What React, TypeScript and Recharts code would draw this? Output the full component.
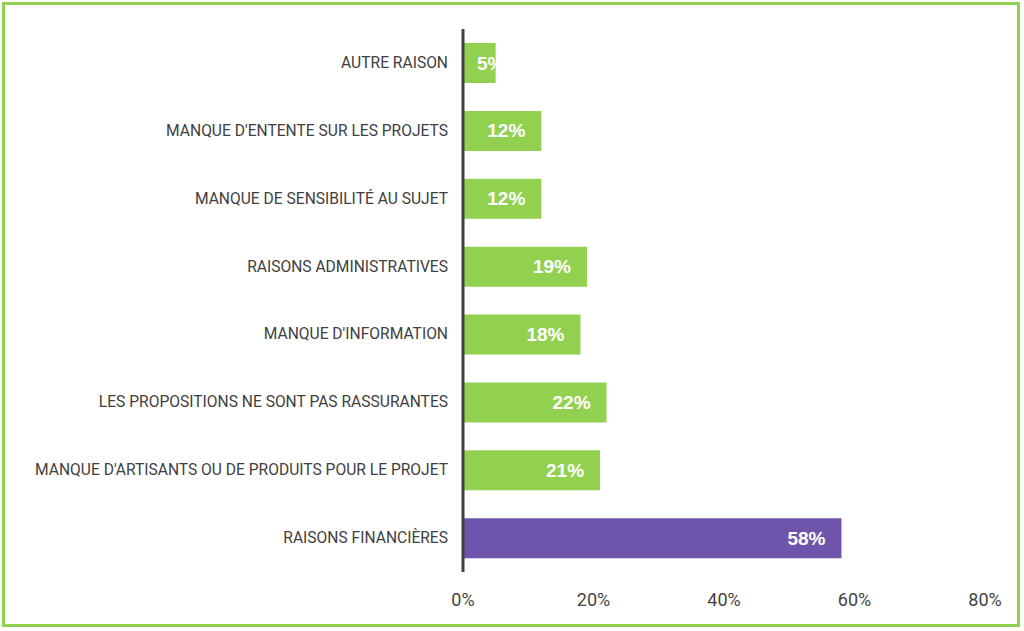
import { Bar, BarChart, Cell, LabelList, XAxis, YAxis } from "recharts";

const categories = [
  "AUTRE RAISON",
  "MANQUE D'ENTENTE SUR LES PROJETS",
  "MANQUE DE SENSIBILITÉ AU SUJET",
  "RAISONS ADMINISTRATIVES",
  "MANQUE D'INFORMATION",
  "LES PROPOSITIONS NE SONT PAS RASSURANTES",
  "MANQUE D'ARTISANTS OU DE PRODUITS POUR LE PROJET",
  "RAISONS FINANCIÈRES",
];
const values = [5, 12, 12, 19, 18, 22, 21, 58];
const highlighted = [false, false, false, false, false, false, false, true];
const xTicks = [0, 20, 40, 60, 80];

const GREEN = "#92d050";
const PURPLE = "#6e54ab";

const data = categories.map((name, i) => ({ name, value: values[i], hi: highlighted[i] }));

function CategoryTick(props: any) {
  const { y, payload } = props;
  return (
    <text
      x={448}
      y={y}
      textAnchor="end"
      dominantBaseline="central"
      fill="#404040"
      fontSize={15.6}
      fontFamily="Roboto, sans-serif"
    >
      {payload.value}
    </text>
  );
}

function PercentTick(props: any) {
  const { x, y, payload } = props;
  return (
    <text
      x={x}
      y={y + 19}
      textAnchor="middle"
      dominantBaseline="central"
      fill="#444"
      fontSize={18}
      fontFamily="Roboto, sans-serif"
    >
      {payload.value}%
    </text>
  );
}

// white label sits 14px inside the bar end, but never closer than 14px to the axis
function ValueLabel(props: any) {
  const { x, y, width, height, value } = props;
  const textWidth = 40;
  const left = Math.max(x + 14, x + width - 14 - textWidth);
  return (
    <text
      x={left}
      y={y + height / 2}
      textAnchor="start"
      dominantBaseline="central"
      fill="#fff"
      fontSize={19}
      fontWeight="bold"
      fontFamily="'Liberation Sans', Arial, sans-serif"
    >
      {value}%
    </text>
  );
}

export default function App() {
  return (
    <div
      style={{
        position: "absolute",
        left: 0,
        top: 0,
        width: 1024,
        height: 631,
        background: "#fff",
      }}
    >
      <div
        style={{
          position: "absolute",
          left: 2,
          top: 2,
          width: 1018,
          height: 625,
          boxSizing: "border-box",
          border: `3px solid ${GREEN}`,
        }}
      />
      <div style={{ position: "absolute", left: 0, top: 0 }}>
        <BarChart
          width={1024}
          height={631}
          data={data}
          layout="vertical"
          margin={{ top: 29, right: 39, bottom: 0, left: 0 }}
          barSize={40}
        >
          <XAxis
            type="number"
            domain={[0, 80]}
            ticks={xTicks}
            axisLine={false}
            tickLine={false}
            tick={<PercentTick />}
            height={59}
          />
          <YAxis
            type="category"
            dataKey="name"
            width={463}
            axisLine={{ stroke: "#404040", strokeWidth: 3 }}
            tickLine={false}
            tick={<CategoryTick />}
            interval={0}
          />
          <Bar dataKey="value" isAnimationActive={false}>
            {data.map((d) => (
              <Cell key={d.name} fill={d.hi ? PURPLE : GREEN} />
            ))}
            <LabelList dataKey="value" content={<ValueLabel />} />
          </Bar>
        </BarChart>
      </div>
    </div>
  );
}
